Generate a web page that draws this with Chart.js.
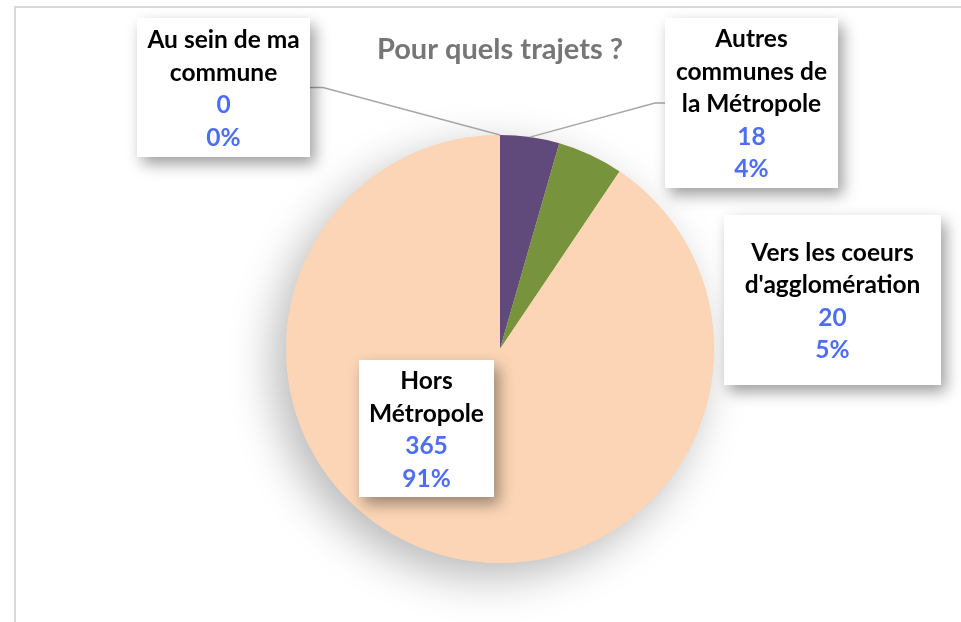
<!DOCTYPE html>
<html>
<head>
<meta charset="utf-8">
<script src="https://cdn.jsdelivr.net/npm/chart.js@4/dist/chart.umd.min.js"></script>
<style>
  html, body { margin: 0; padding: 0; background: #fff; }
  #wrap { position: relative; width: 961px; height: 622px; }
</style>
</head>
<body>
<div id="wrap"><canvas id="chart" width="961" height="622"></canvas></div>
<script>
const title = "Pour quels trajets ?"
const categories = [
  ["Au sein de ma", "commune"],
  ["Autres", "communes de", "la Métropole"],
  ["Vers les coeurs", "d'agglomération"],
  ["Hors", "Métropole"]
]
const counts = [0, 18, 20, 365]
const percents = ["0%", "4%", "5%", "91%"]
const sliceColors = ["#4F81BD", "#604A7B", "#77933C", "#FBD5B5"]

// label boxes: left, top, width, height (page pixels) and whether a leader line is drawn
const labelBoxes = [
  { x: 137, y: 18, w: 173, h: 139, leader: "right" },
  { x: 665, y: 18, w: 173, h: 170, leader: "left" },
  { x: 724, y: 215, w: 217, h: 170, leader: null },
  { x: 359, y: 360, w: 135, h: 137, leader: null }
]

const FONT = "Lato, 'Open Sans', sans-serif"

const decorPlugin = {
  id: "decor",
  beforeDraw(chart) {
    const ctx = chart.ctx
    ctx.save()
    ctx.fillStyle = "#fff"
    ctx.fillRect(0, 0, chart.width, chart.height)
    // frame
    ctx.strokeStyle = "#d9d9d9"
    ctx.lineWidth = 2
    ctx.beginPath()
    ctx.moveTo(15, chart.height)
    ctx.lineTo(15, 7)
    ctx.lineTo(chart.width, 7)
    ctx.stroke()
    // title
    ctx.fillStyle = "#767676"
    ctx.font = "bold 29px " + FONT
    ctx.textAlign = "center"
    ctx.textBaseline = "middle"
    ctx.fillText(title, 500, 50)
    ctx.restore()
  },
  beforeDatasetsDraw(chart) {
    const arc = chart.getDatasetMeta(0).data[0]
    const ctx = chart.ctx
    ctx.save()
    ctx.shadowColor = "rgba(0,0,0,0.28)"
    ctx.shadowBlur = 45
    ctx.shadowOffsetX = -12
    ctx.shadowOffsetY = 14
    ctx.fillStyle = sliceColors[3]
    ctx.beginPath()
    ctx.arc(arc.x, arc.y, arc.outerRadius, 0, Math.PI * 2)
    ctx.fill()
    ctx.restore()
  },
  afterDatasetsDraw(chart) {
    const ctx = chart.ctx
    const arcs = chart.getDatasetMeta(0).data
    ctx.save()
    // leader lines
    ctx.strokeStyle = "#a6a6a6"
    ctx.lineWidth = 1.5
    labelBoxes.forEach((b, i) => {
      if (!b.leader) return
      const a = arcs[i]
      const mid = (a.startAngle + a.endAngle) / 2
      const px = a.x + Math.cos(mid) * a.outerRadius
      const py = a.y + Math.sin(mid) * a.outerRadius
      const by = b.y + b.h / 2
      const bx = b.leader === "right" ? b.x + b.w : b.x
      const kx = b.leader === "right" ? bx + 13 : bx - 10
      ctx.beginPath()
      ctx.moveTo(bx, by)
      ctx.lineTo(kx, by)
      ctx.lineTo(px, py)
      ctx.stroke()
    })
    // boxes
    labelBoxes.forEach((b, i) => {
      ctx.save()
      ctx.shadowColor = "rgba(0,0,0,0.38)"
      ctx.shadowBlur = 14
      ctx.shadowOffsetX = 5
      ctx.shadowOffsetY = 7
      ctx.fillStyle = "#fff"
      ctx.fillRect(b.x, b.y, b.w, b.h)
      ctx.restore()
      const lines = categories[i].map(t => ({ t, c: "#000" }))
      lines.push({ t: String(counts[i]), c: "#4E6DF5" })
      lines.push({ t: percents[i], c: "#4E6DF5" })
      const lh = 32.5
      const cx = b.x + b.w / 2
      let y = b.y + b.h / 2 - (lines.length - 1) * lh / 2 + 1.5
      ctx.font = "bold 24.5px " + FONT
      ctx.textAlign = "center"
      ctx.textBaseline = "middle"
      lines.forEach(l => {
        ctx.fillStyle = l.c
        ctx.fillText(l.t, cx, y)
        y += lh
      })
    })
    ctx.restore()
  }
}

new Chart(document.getElementById("chart"), {
  type: "pie",
  data: {
    labels: categories.map(c => c.join(" ")),
    datasets: [{
      data: counts,
      backgroundColor: sliceColors,
      borderWidth: 0
    }]
  },
  options: {
    responsive: false,
    animation: false,
    layout: { padding: { top: 135, bottom: 59, left: 239, right: 200 } },
    plugins: {
      legend: { display: false },
      tooltip: { enabled: false }
    }
  },
  plugins: [decorPlugin]
})
</script>
</body>
</html>
